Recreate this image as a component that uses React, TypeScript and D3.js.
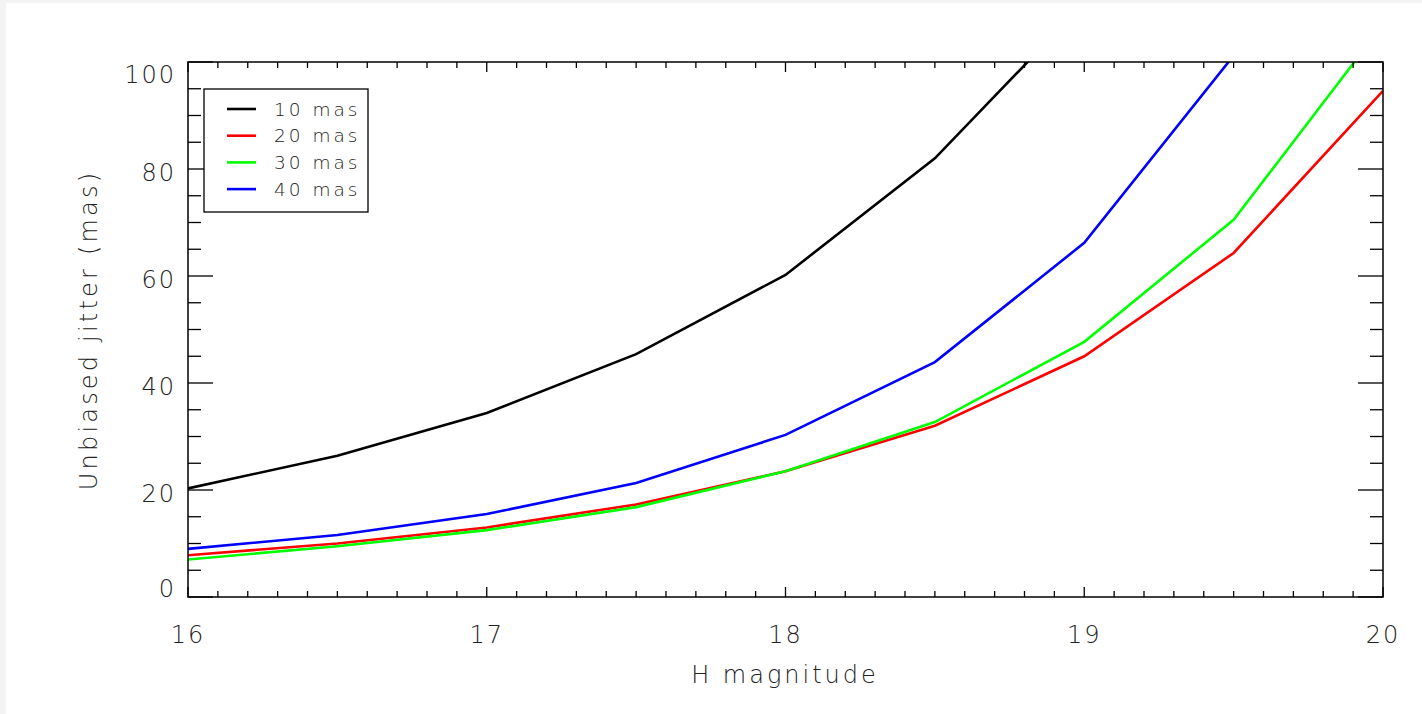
import React from "react";
import * as d3 from "d3";

const magnitudes = [16, 16.5, 17, 17.5, 18, 18.5, 19, 19.5, 20];
const jitter10 = [20.3, 26.4, 34.4, 45.4, 60.2, 82.0, 111, 155, 215];
const jitter20 = [7.8, 10.0, 13.0, 17.3, 23.5, 32.0, 45.0, 64.3, 94.6];
const jitter30 = [7.0, 9.5, 12.5, 16.8, 23.5, 32.7, 47.7, 70.5, 107];
const jitter40 = [9.0, 11.6, 15.5, 21.3, 30.3, 43.9, 66.2, 101.2, 150];
const seriesNames = ["10 mas", "20 mas", "30 mas", "40 mas"];
const seriesColors = ["#000000", "#ff0000", "#00ff00", "#0000ff"];
const xTicks = [16, 17, 18, 19, 20];
const yTicks = [0, 20, 40, 60, 80, 100];

const W = 1422;
const H = 714;
const left = 188, right = 1383, top = 62, bottom = 597;
const font = "'DejaVu Sans', sans-serif";
const textColor = "#222";

export default function App() {
  const x = d3.scaleLinear().domain([16, 20]).range([left, right]);
  const y = d3.scaleLinear().domain([0, 100]).range([bottom, top]);
  const series = [jitter10, jitter20, jitter30, jitter40];
  const line = d3
    .line<number>()
    .x((_, i) => x(magnitudes[i]))
    .y((d) => y(d));

  const xMinor = d3.range(16, 20.0001, 0.1);
  const yMinor = d3.range(0, 100.0001, 5);

  return (
    <svg
      width={W}
      height={H}
      style={{ position: "absolute", left: 0, top: 0 }}
    >
      <rect x={0} y={0} width={W} height={H} fill="#f4f4f4" />
      <rect x={6} y={3} width={W - 6} height={H - 3} fill="#ffffff" />
      <defs>
        <clipPath id="plotclip">
          <rect x={left} y={top} width={right - left} height={bottom - top} />
        </clipPath>
      </defs>

      <g clipPath="url(#plotclip)">
        {series.map((s, k) => (
          <path
            key={k}
            d={line(s) || ""}
            fill="none"
            stroke={seriesColors[k]}
            strokeWidth={2.6}
          />
        ))}
      </g>

      {xMinor.map((v, i) => {
        const major = Math.abs(v - Math.round(v)) < 1e-6;
        const len = major ? 10 : 6;
        const px = x(v);
        return (
          <g key={"xt" + i} stroke="#000" strokeWidth={1.3}>
            <line x1={px} x2={px} y1={bottom} y2={bottom - len} />
            <line x1={px} x2={px} y1={top} y2={top + len} />
          </g>
        );
      })}
      {yMinor.map((v, i) => {
        const major = v % 20 === 0;
        const len = major ? 25 : 13;
        const py = y(v);
        return (
          <g key={"yt" + i} stroke="#000" strokeWidth={1.3}>
            <line x1={left} x2={left + len} y1={py} y2={py} />
            <line x1={right} x2={right - len} y1={py} y2={py} />
          </g>
        );
      })}

      <rect
        x={left}
        y={top}
        width={right - left}
        height={bottom - top}
        fill="none"
        stroke="#000"
        strokeWidth={1.5}
      />

      {xTicks.map((v) => (
        <text
          key={"xl" + v}
          x={x(v)}
          y={643}
          textAnchor="middle"
          fontFamily={font}
          fontWeight={200}
          fontSize={24}
          letterSpacing={2}
          fill={textColor}
        >
          {v}
        </text>
      ))}
      {yTicks.map((v) => {
        const cy = Math.min(Math.max(y(v) + 3, top + 12), bottom - 9);
        return (
          <text
            key={"yl" + v}
            x={176}
            y={cy}
            dy="0.36em"
            textAnchor="end"
            fontFamily={font}
            fontWeight={200}
            fontSize={24}
            letterSpacing={2}
            fill={textColor}
          >
            {v}
          </text>
        );
      })}

      <text
        x={785}
        y={683}
        textAnchor="middle"
        fontFamily={font}
        fontWeight={200}
        fontSize={24}
        letterSpacing={3}
        fill={textColor}
      >
        H magnitude
      </text>
      <text
        transform={`translate(97, 330) rotate(-90)`}
        textAnchor="middle"
        fontFamily={font}
        fontWeight={200}
        fontSize={24}
        letterSpacing={3.2}
        fill={textColor}
      >
        Unbiased jitter (mas)
      </text>

      <rect
        x={204}
        y={89}
        width={164}
        height={123}
        fill="#fff"
        stroke="#000"
        strokeWidth={1.3}
      />
      {seriesNames.map((name, k) => {
        const ry = 109 + k * 26.7;
        return (
          <g key={"lg" + k}>
            <line
              x1={227}
              x2={256}
              y1={ry}
              y2={ry}
              stroke={seriesColors[k]}
              strokeWidth={2.6}
            />
            <text
              x={274}
              y={ry}
              dy="0.36em"
              fontFamily={font}
              fontWeight={200}
              fontSize={18.5}
              letterSpacing={3}
              fill={textColor}
            >
              {name}
            </text>
          </g>
        );
      })}
    </svg>
  );
}
